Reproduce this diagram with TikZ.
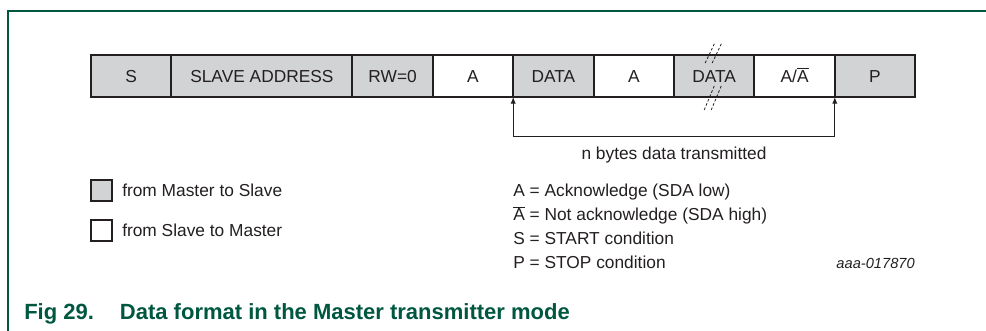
\documentclass[tikz,border=0pt]{standalone}
\usepackage{fontspec}
\setmainfont{Liberation Sans}
\usepackage{tikz}
\usetikzlibrary{calc,positioning,arrows.meta}
\definecolor{ink}{HTML}{231F20}
\definecolor{shade}{HTML}{D1D3D4}
\definecolor{nxp}{HTML}{00573F}
\newcommand{\notA}{\ensuremath{\overline{\hbox{A}}}}
\tikzset{
  cell/.style={draw=ink, line width=1.5pt, minimum width=60.3pt, minimum height=31.5pt,
    inner sep=0pt, outer sep=0pt, text=ink, text height=9.3pt, text depth=0pt,
    font=\fontsize{13}{15}\selectfont},
  mst/.style={cell, fill=shade},
  slv/.style={cell, fill=white},
  keybox/.style={draw=ink, line width=1.5pt, minimum size=15.75pt, inner sep=0pt},
  lab/.style={text=ink, font=\fontsize{13}{15}\selectfont, inner sep=0pt, anchor=base west},
  note/.style={text=ink, font=\itshape\fontsize{11}{13}\selectfont, inner sep=0pt, anchor=base east},
  bytespan/.style={draw=ink, line width=0.75pt,
    {Latex[length=5pt,width=4pt]}-{Latex[length=5pt,width=4pt]}},
  brk/.style={draw=ink, line width=0.6pt, dash pattern=on 2pt off 1.5pt},
  frm/.style={draw=nxp, line width=0.8pt},
  figcap/.style={text=nxp, font=\bfseries\fontsize{16.5}{19}\selectfont, inner sep=0pt, anchor=base west},
}
\begin{document}
\begin{tikzpicture}[x=0.75pt, y=-0.75pt]
  \useasboundingbox (0,0) rectangle (986,331);
  \draw[frm] (986,11) -- (8,11) -- (8,331);

  % frame of the transfer
  \node[mst] (s) at (131.2,76) {S};
  \node[mst, right=0pt of s, minimum width=135.75pt] (addr) {SLAVE ADDRESS};
  \node[mst, right=0pt of addr] (rw) {RW=0};
  \node[slv, right=0pt of rw] (ack1) {A};
  \node[mst, right=0pt of ack1] (d1) {DATA};
  \node[slv, right=0pt of d1] (ack2) {A};
  \node[mst, right=0pt of ack2] (d2) {DATA};
  \node[slv, right=0pt of d2] (ack3) {A/\notA};
  \node[mst, right=0pt of ack3] (p) {P};

  % break marks on the last data byte
  \foreach \dx in {0,7} {
    \draw[brk] ($(d2.north)+(-9+\dx,8)$) -- ++(10,-21);
    \draw[brk] ($(d2.south)+(-10+\dx,13)$) -- ++(10,-24);
  }

  \coordinate (lo) at ($(d1.south west)+(0,40)$);
  \draw[bytespan] (d1.south west) -- (lo) -| (ack3.south east);
  \node[lab, anchor=base] (nbytes) at ($(d1.south west)!0.5!(ack3.south east)+(0,63)$) {n bytes data transmitted};

  % legend
  \node[keybox, fill=shade] (k1) at (101.5,190.5) {};
  \node[lab] (t1) at (122,196.5) {from Master to Slave};
  \node[keybox, fill=white] (k2) at (101.5,230.5) {};
  \node[lab] (t2) at (122,236.5) {from Slave to Master};

  \node[lab] (ka) at (513,196.5) {A = Acknowledge (SDA low)};
  \node[lab] (kn) at (513,221) {\notA{} = Not acknowledge (SDA high)};
  \node[lab] (ks) at (513,245) {S = START condition};
  \node[lab] (kp) at (513,269) {P = STOP condition};
  \node[note] (id) at (915,269) {aaa-017870};

  \node[figcap] (fig) at (24,320) {Fig 29.\hspace{19.5pt}Data format in the Master transmitter mode};
\end{tikzpicture}
\end{document}
